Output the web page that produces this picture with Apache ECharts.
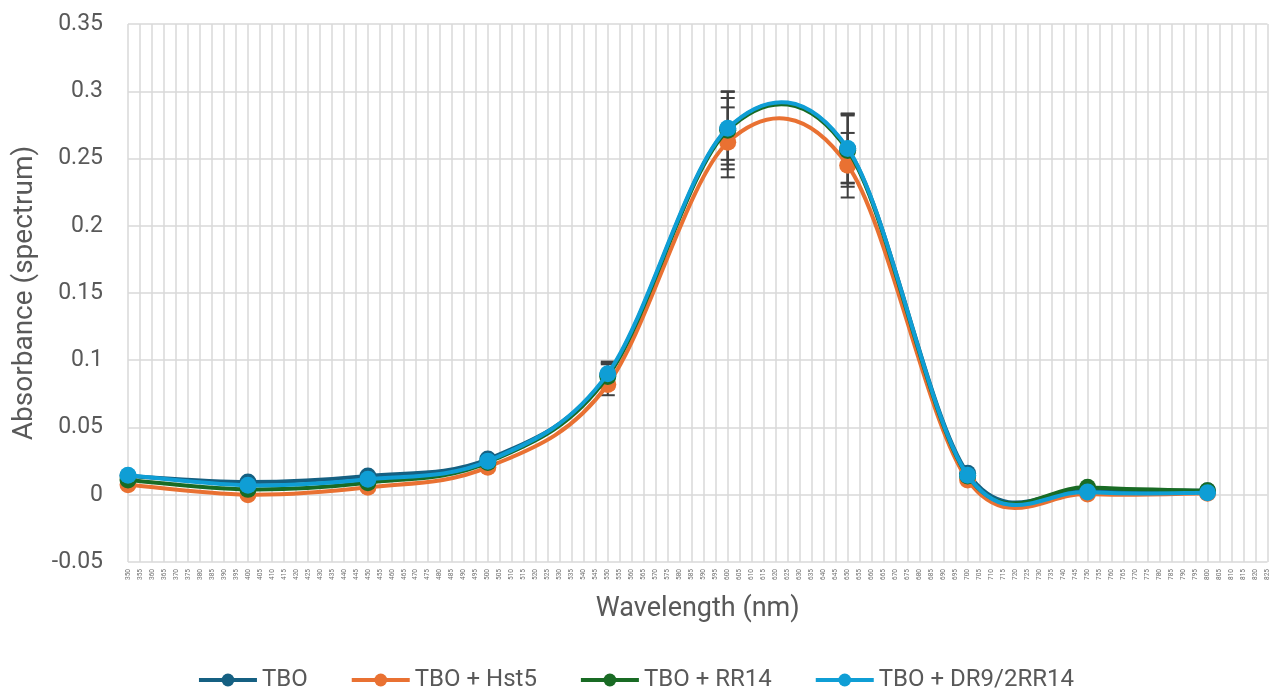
<!DOCTYPE html>
<html><head><meta charset="utf-8">
<script src="https://cdn.jsdelivr.net/npm/echarts@6/dist/echarts.min.js"></script>
<style>html,body{margin:0;padding:0;background:#fff}#c{width:1271px;height:697px}</style>
</head><body><div id="c"></div>
<script>
const wavelengths = [350, 400, 450, 500, 550, 600, 650, 700, 750, 800];
const seriesNames = ['TBO', 'TBO + Hst5', 'TBO + RR14', 'TBO + DR9/2RR14'];
const tbo      = [0.014, 0.0095, 0.014, 0.0265, 0.089, 0.272, 0.257, 0.016, 0.004, 0.003];
const tboHst5  = [0.0075, 0.000, 0.0055, 0.0205, 0.082, 0.262, 0.245, 0.011, 0.0005, 0.0012];
const tboRR14  = [0.011, 0.004, 0.009, 0.024, 0.088, 0.271, 0.256, 0.014, 0.0055, 0.003];
const tboDR9   = [0.0145, 0.007, 0.0115, 0.025, 0.090, 0.2725, 0.2575, 0.0145, 0.002, 0.0015];
const errTbo   = [0.001, 0.001, 0.001, 0.001, 0.009, 0.023, 0.025, 0.001, 0.001, 0.001];
const errHst5  = [0.001, 0.001, 0.001, 0.001, 0.008, 0.026, 0.024, 0.001, 0.001, 0.001];
const errRR14  = [0.001, 0.001, 0.001, 0.001, 0.009, 0.029, 0.027, 0.001, 0.001, 0.001];
const errDR9   = [0.001, 0.001, 0.001, 0.001, 0.009, 0.027, 0.026, 0.001, 0.001, 0.001];
const colors = ['#156082', '#E97132', '#196B24', '#0F9ED5'];

const values = [tbo, tboHst5, tboRR14, tboDR9];
const errs = [errTbo, errHst5, errRR14, errDR9];
const font = 'Roboto, "Liberation Sans", sans-serif';
const txt = '#595959';

const chart = echarts.init(document.getElementById('c'));
const series = [];

// error bars
values.forEach((vals, i) => {
  series.push({
    type: 'custom',
    name: seriesNames[i] + ' err',
    silent: true,
    z: 1,
    data: wavelengths.map((w, k) => [w, vals[k] - errs[i][k], vals[k] + errs[i][k]]),
    renderItem: function (params, api) {
      const lo = api.coord([api.value(0), api.value(1)]);
      const hi = api.coord([api.value(0), api.value(2)]);
      const hw = 7;
      const st = { stroke: '#404040', lineWidth: 2 };
      return { type: 'group', children: [
        { type: 'line', shape: { x1: lo[0], y1: lo[1], x2: hi[0], y2: hi[1] }, style: st },
        { type: 'line', shape: { x1: lo[0] - hw, y1: lo[1], x2: lo[0] + hw, y2: lo[1] }, style: st },
        { type: 'line', shape: { x1: hi[0] - hw, y1: hi[1], x2: hi[0] + hw, y2: hi[1] }, style: st }
      ]};
    }
  });
});

// smoothed curves (Catmull-Rom style Bezier through the data points, in pixel space)
values.forEach((vals, i) => {
  series.push({
    type: 'custom',
    name: seriesNames[i] + ' curve',
    silent: true,
    z: 3 + 2 * i,
    data: [[wavelengths[0], vals[0]]],
    renderItem: function (params, api) {
      const p = wavelengths.map((w, k) => api.coord([w, vals[k]]));
      const n = p.length;
      const P = k => p[Math.max(0, Math.min(n - 1, k))];
      let d = 'M' + p[0][0] + ' ' + p[0][1];
      for (let k = 0; k < n - 1; k++) {
        const a = P(k - 1), b = P(k), c = P(k + 1), e = P(k + 2);
        const c1x = b[0] + (c[0] - a[0]) / 6, c1y = b[1] + (c[1] - a[1]) / 6;
        const c2x = c[0] - (e[0] - b[0]) / 6, c2y = c[1] - (e[1] - b[1]) / 6;
        d += ' C' + c1x + ' ' + c1y + ' ' + c2x + ' ' + c2y + ' ' + c[0] + ' ' + c[1];
      }
      return { type: 'path', shape: { pathData: d },
        style: { stroke: colors[i], lineWidth: 4, fill: null, lineJoin: 'round', lineCap: 'round' } };
    }
  });
});

// markers
values.forEach((vals, i) => {
  series.push({
    type: 'line',
    name: seriesNames[i],
    data: wavelengths.map((w, k) => [w, vals[k]]),
    symbol: 'circle',
    symbolSize: 17,
    z: 4 + 2 * i,
    lineStyle: { width: 4, color: colors[i], opacity: 0 },
    itemStyle: { color: colors[i] },
    emphasis: { disabled: true }
  });
});

chart.setOption({
  animation: false,
  backgroundColor: '#fff',
  grid: { left: 128, right: 0, top: 24, bottom: 135, containLabel: false },
  legend: {
    data: seriesNames.map((nm, i) => ({ name: nm, itemStyle: { color: colors[i] },
      lineStyle: { color: colors[i], width: 4, opacity: 1 } })),
    bottom: 0,
    left: 'center',
    itemWidth: 58,
    itemHeight: 16,
    itemGap: 42,
    textStyle: { color: txt, fontSize: 24, fontFamily: font }
  },
  xAxis: {
    type: 'value',
    min: 350, max: 825, interval: 5,
    name: 'Wavelength (nm)',
    nameLocation: 'middle',
    nameGap: 34,
    nameTextStyle: { color: txt, fontSize: 27, fontFamily: font },
    axisLine: { show: false },
    axisTick: { show: false },
    axisLabel: { rotate: 90, fontSize: 6.5, color: '#6f6f6f', fontFamily: font, margin: 7, showMaxLabel: true },
    splitLine: { show: true, lineStyle: { color: '#d9d9d9', width: 1.5 } }
  },
  yAxis: {
    type: 'value',
    min: -0.05, max: 0.35, interval: 0.05,
    name: 'Absorbance (spectrum)',
    nameLocation: 'middle',
    nameGap: 89,
    nameTextStyle: { color: txt, fontSize: 28, fontFamily: font },
    axisLine: { show: false },
    axisTick: { show: false },
    axisLabel: { fontSize: 23, color: txt, fontFamily: font, margin: 25,
      formatter: v => String(parseFloat(v.toFixed(2))) },
    splitLine: { show: true, lineStyle: { color: '#d9d9d9', width: 1.5 } }
  },
  series: series
});
</script></body></html>
